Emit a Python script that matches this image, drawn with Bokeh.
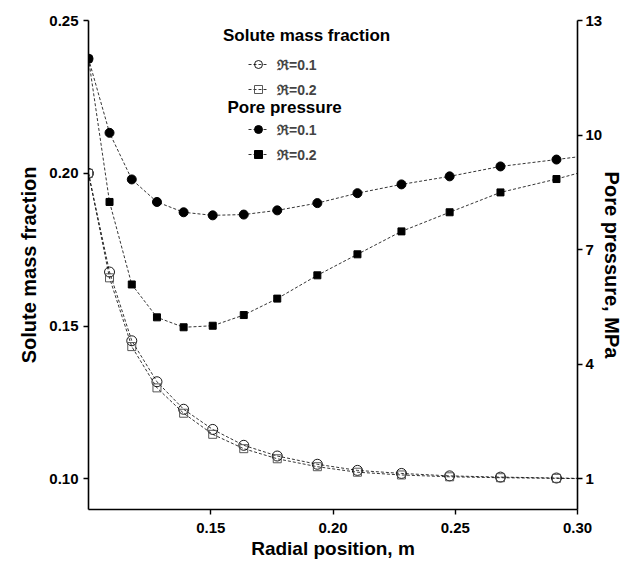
from bokeh.plotting import figure
from bokeh.models import (Range1d, LinearAxis, FixedTicker, Legend, LegendItem,
                          Label, PrintfTickFormatter)
from bokeh.embed import file_html
from bokeh.resources import INLINE

# ---- data ----
radius = [0.1000, 0.1086, 0.1177, 0.1280, 0.1389, 0.1508, 0.1635, 0.1772,
          0.1936, 0.2100, 0.2280, 0.2477, 0.2685, 0.2914, 0.3000]
solute_r01 = [0.2000, 0.1677, 0.1452, 0.1318, 0.1228, 0.1162, 0.1110, 0.1075,
              0.1048, 0.1028, 0.1018, 0.1010, 0.1006, 0.1003, 0.1002]
solute_r02 = [0.2000, 0.1658, 0.1433, 0.1298, 0.1215, 0.1146, 0.1099, 0.1066,
              0.1040, 0.1022, 0.1013, 0.1007, 0.1004, 0.1002, 0.1001]
pressure_r01 = [12.00, 10.06, 8.84, 8.25, 7.98, 7.90, 7.92, 8.03,
                8.22, 8.48, 8.71, 8.92, 9.18, 9.36, 9.43]
pressure_r02 = [12.00, 8.25, 6.09, 5.23, 4.97, 5.01, 5.29, 5.72,
                6.33, 6.88, 7.48, 7.98, 8.50, 8.85, 9.00]
# the last entry (r = 0.30) is where the curves meet the axis; no marker there
n_marked = 14

x_ticks = [0.15, 0.20, 0.25, 0.30]
left_ticks = [0.10, 0.15, 0.20, 0.25]
right_ticks = [1, 4, 7, 10, 13]
legend_labels = ["\u211c=0.1", "\u211c=0.2"]

FONT = "Liberation Sans"

p = figure(width=633, height=563,
           x_range=Range1d(0.10, 0.30), y_range=Range1d(0.09, 0.25),
           output_backend="svg", toolbar_location=None,
           min_border_left=88, min_border_top=20, min_border_right=56,
           min_border_bottom=54, outline_line_color=None,
           background_fill_color="white", border_fill_color="white")
p.xgrid.visible = False
p.ygrid.visible = False
p.extra_y_ranges = {"pres": Range1d(0.2, 13)}

def style_axis(ax, label, label_size):
    ax.axis_label = label
    ax.axis_label_text_font = FONT
    ax.axis_label_text_font_style = "bold"
    ax.axis_label_text_font_size = label_size
    ax.major_label_text_font = FONT
    ax.major_label_text_font_style = "bold"
    ax.major_label_text_font_size = "15px"
    ax.major_label_text_color = "black"
    ax.axis_label_text_color = "black"
    ax.axis_line_width = 1.6
    ax.axis_line_color = "black"
    ax.major_tick_line_width = 1.4
    ax.major_tick_line_color = "black"
    ax.major_tick_out = 5
    ax.major_tick_in = 0
    ax.minor_tick_line_color = None

xa = p.xaxis[0]
xa.ticker = FixedTicker(ticks=x_ticks)
xa.formatter = PrintfTickFormatter(format="%.2f")
style_axis(xa, "Radial position, m", "19px")
xa.major_label_standoff = 8
xa.axis_label_standoff = 2

ya = p.yaxis[0]
ya.ticker = FixedTicker(ticks=left_ticks)
ya.formatter = PrintfTickFormatter(format="%.2f")
style_axis(ya, "Solute mass fraction", "20px")
ya.axis_label_standoff = 6

ra = LinearAxis(y_range_name="pres", ticker=FixedTicker(ticks=right_ticks),
                formatter=PrintfTickFormatter(format="%d"))
style_axis(ra, "Pore pressure, MPa", "20px")
ra.major_label_standoff = 3
ra.axis_label_standoff = -4
p.add_layout(ra, "right")

DASH = "3 2"
LW = 0.8

# solute mass fraction (open markers)
l_s1 = p.line(radius, solute_r01, line_color="black", line_width=LW, line_dash=DASH)
m_s1 = p.scatter(radius[:n_marked], solute_r01[:n_marked], marker="circle", size=10,
                 fill_color=None, line_color="black", line_width=0.9)
l_s2 = p.line(radius, solute_r02, line_color="black", line_width=LW, line_dash=DASH)
m_s2 = p.scatter(radius[:n_marked], solute_r02[:n_marked], marker="square", size=8,
                 fill_color=None, line_color="#444444", line_width=0.9)

# pore pressure (filled markers, right axis)
l_p1 = p.line(radius, pressure_r01, line_color="black", line_width=LW, line_dash=DASH,
              y_range_name="pres")
m_p1 = p.scatter(radius[:n_marked], pressure_r01[:n_marked], marker="circle", size=9,
                 fill_color="black", line_color="black", y_range_name="pres")
l_p2 = p.line(radius, pressure_r02, line_color="black", line_width=LW, line_dash=DASH,
              y_range_name="pres")
m_p2 = p.scatter(radius[:n_marked], pressure_r02[:n_marked], marker="square", size=7,
                 fill_color="black", line_color="black", y_range_name="pres")

def make_legend(items, loc):
    lg = Legend(items=items, location=loc, border_line_color=None,
                background_fill_alpha=0, label_text_font=FONT,
                label_text_font_style="bold", label_text_font_size="14px",
                glyph_width=20, glyph_height=20, label_standoff=9, spacing=5,
                padding=0, margin=0, label_height=20)
    p.add_layout(lg)

make_legend([LegendItem(label=legend_labels[0], renderers=[l_s1, m_s1]),
             LegendItem(label=legend_labels[1], renderers=[l_s2, m_s2])], (160, 410))
make_legend([LegendItem(label=legend_labels[0], renderers=[l_p1, m_p1]),
             LegendItem(label=legend_labels[1], renderers=[l_p2, m_p2])], (160, 345))

for txt, xx, yy in [("Solute mass fraction", 0.1892, 0.2451),
                    ("Pore pressure", 0.1802, 0.2216)]:
    p.add_layout(Label(x=xx, y=yy, text=txt, text_font=FONT, text_font_style="bold",
                       text_font_size="17px", text_align="center",
                       text_baseline="middle", text_color="black"))

open("out.html", "w").write(file_html(p, INLINE))
